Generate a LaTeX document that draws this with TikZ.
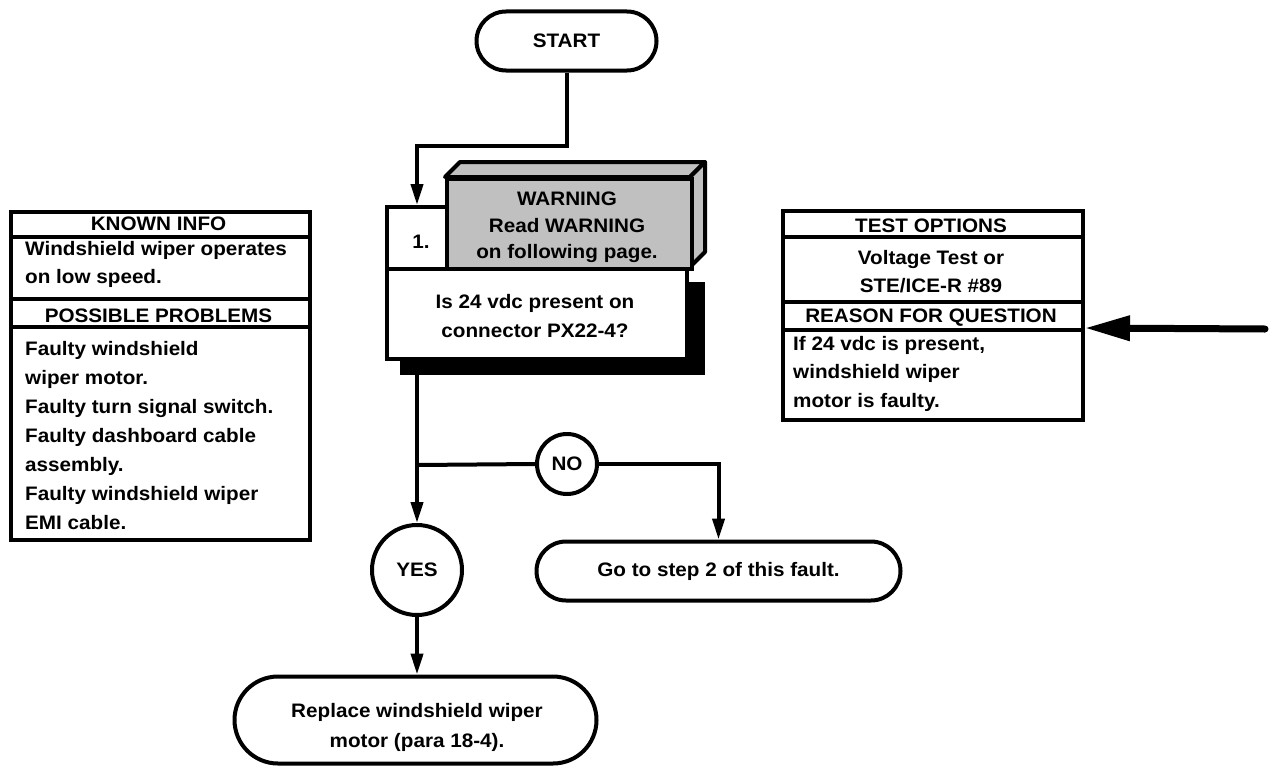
\documentclass[tikz,border=0pt]{standalone}
\usepackage{fontspec}
\newfontfamily\lab{Liberation Sans}[FakeStretch=1.06]
\newcommand\flabel{\lab\bfseries\fontsize{19.5}{28}\selectfont}
\usetikzlibrary{arrows.meta,shapes.misc}
\definecolor{warngray}{RGB}{192,192,192}
\begin{document}
\begin{tikzpicture}[x=1pt,y=-1pt,
  lw/.style={line width=4pt},
  term/.style={draw,lw,rounded rectangle,fill=white,font=\flabel,inner sep=0pt},
  circ/.style={draw,lw,circle,fill=white,font=\flabel,inner sep=0pt},
  panel/.style={draw,lw,fill=white,inner sep=0pt,anchor=north west},
  txt/.style={font=\flabel,inner sep=0pt,anchor=base},
  ltxt/.style={font=\flabel,inner sep=0pt,anchor=base west},
  flow/.style={lw,-{Triangle[length=21pt,width=12pt]}},
  bigflow/.style={line width=7pt,line cap=round,-{Triangle[length=45pt,width=24pt]}}]
\useasboundingbox (0,0) rectangle (1273,768);

% START
\node[term,minimum width=180pt,minimum height=59pt] (start) at (566.5,41) {START};

% step 1 block
\node[fill=black,inner sep=0pt,minimum width=305pt,minimum height=93pt,anchor=north west] (shadow) at (400,282) {};
\node[panel,minimum width=300pt,minimum height=90pt] (quest) at (385,267) {};
\node[txt] (q1) at (535,308) {Is 24 vdc present on};
\node[txt] (q2) at (535,337) {connector PX22-4?};
\filldraw[lw,fill=warngray,line join=round] (445,177) -- (460,162) -- (705,162) -- (690,177) -- cycle;
\filldraw[lw,fill=warngray,line join=round] (690,177) -- (705,162) -- (705,252) -- (690,267) -- cycle;
\node[panel,fill=warngray,minimum width=245pt,minimum height=90pt] (warn) at (445,177) {};
\node[txt] (w1) at (567,205) {WARNING};
\node[txt] (w2) at (567,232) {Read WARNING};
\node[txt] (w3) at (567,258) {on following page.};
\node[panel,minimum width=60pt,minimum height=62pt] (num) at (385,205) {};
\node[txt] (n1) at (421,248) {1.};

% branches
\coordinate (j1) at (417,146);
\coordinate (br) at (417,465);
\node[circ,minimum size=60pt] (no) at (567,464) {NO};
\node[circ,minimum size=90pt] (yes) at (417,570) {YES};
\node[term,minimum width=364pt,minimum height=59pt] (go) at (718.5,571) {Go to step 2 of this fault.};
\node[term,minimum width=362pt,minimum height=87pt] (repl) at (415.5,720) {};
\node[txt] (r1) at (417,717) {Replace windshield wiper};
\node[txt] (r2) at (417,747) {motor (para 18-4).};

\draw[flow] (start.south) |- (j1) -- (j1 |- num.north);
\draw[flow] (j1 |- shadow.south) -- (yes.north);
\draw[lw] (br) -- (no.west);
\draw[flow] (no.east) -| (go.north);
\draw[flow] (yes.south) -- (yes.south |- repl.north);

% left panel
\node[panel,minimum width=299pt,minimum height=25pt] (kih) at (9,210) {};
\node[panel,minimum width=299pt,minimum height=62pt] (kib) at (9,235) {};
\node[panel,minimum width=299pt,minimum height=28pt] (pph) at (9,297) {};
\node[panel,minimum width=299pt,minimum height=213pt] (ppb) at (9,325) {};
\node[txt] (t1) at (158.5,230) {KNOWN INFO};
\node[ltxt] (t2) at (25,255) {Windshield wiper operates};
\node[ltxt] (t3) at (25,283) {on low speed.};
\node[txt] (t4) at (158.5,322) {POSSIBLE PROBLEMS};
\node[ltxt] (t5) at (25,355) {Faulty windshield};
\node[ltxt] (t6) at (25,384) {wiper motor.};
\node[ltxt] (t7) at (25,413) {Faulty turn signal switch.};
\node[ltxt] (t8) at (25,442) {Faulty dashboard cable};
\node[ltxt] (t9) at (25,471) {assembly.};
\node[ltxt] (t10) at (25,500) {Faulty windshield wiper};
\node[ltxt] (t11) at (25,529) {EMI cable.};

% right panel
\node[panel,minimum width=300pt,minimum height=26pt] (toh) at (781,209) {};
\node[panel,minimum width=300pt,minimum height=65pt] (tob) at (781,235) {};
\node[panel,minimum width=300pt,minimum height=28pt] (rqh) at (781,300) {};
\node[panel,minimum width=300pt,minimum height=90pt] (rqb) at (781,328) {};
\node[txt] (s1) at (931,232) {TEST OPTIONS};
\node[txt] (s2) at (931,264) {Voltage Test or};
\node[txt] (s3) at (931,292) {STE/ICE-R \#89};
\node[txt] (s4) at (931,322) {REASON FOR QUESTION};
\node[ltxt] (s5) at (793,350) {If 24 vdc is present,};
\node[ltxt] (s6) at (793,378) {windshield wiper};
\node[ltxt] (s7) at (793,407) {motor is faulty.};

\coordinate (tail) at (1265,329);
\draw[bigflow] (tail) -- (rqb.north east);
\end{tikzpicture}
\end{document}
